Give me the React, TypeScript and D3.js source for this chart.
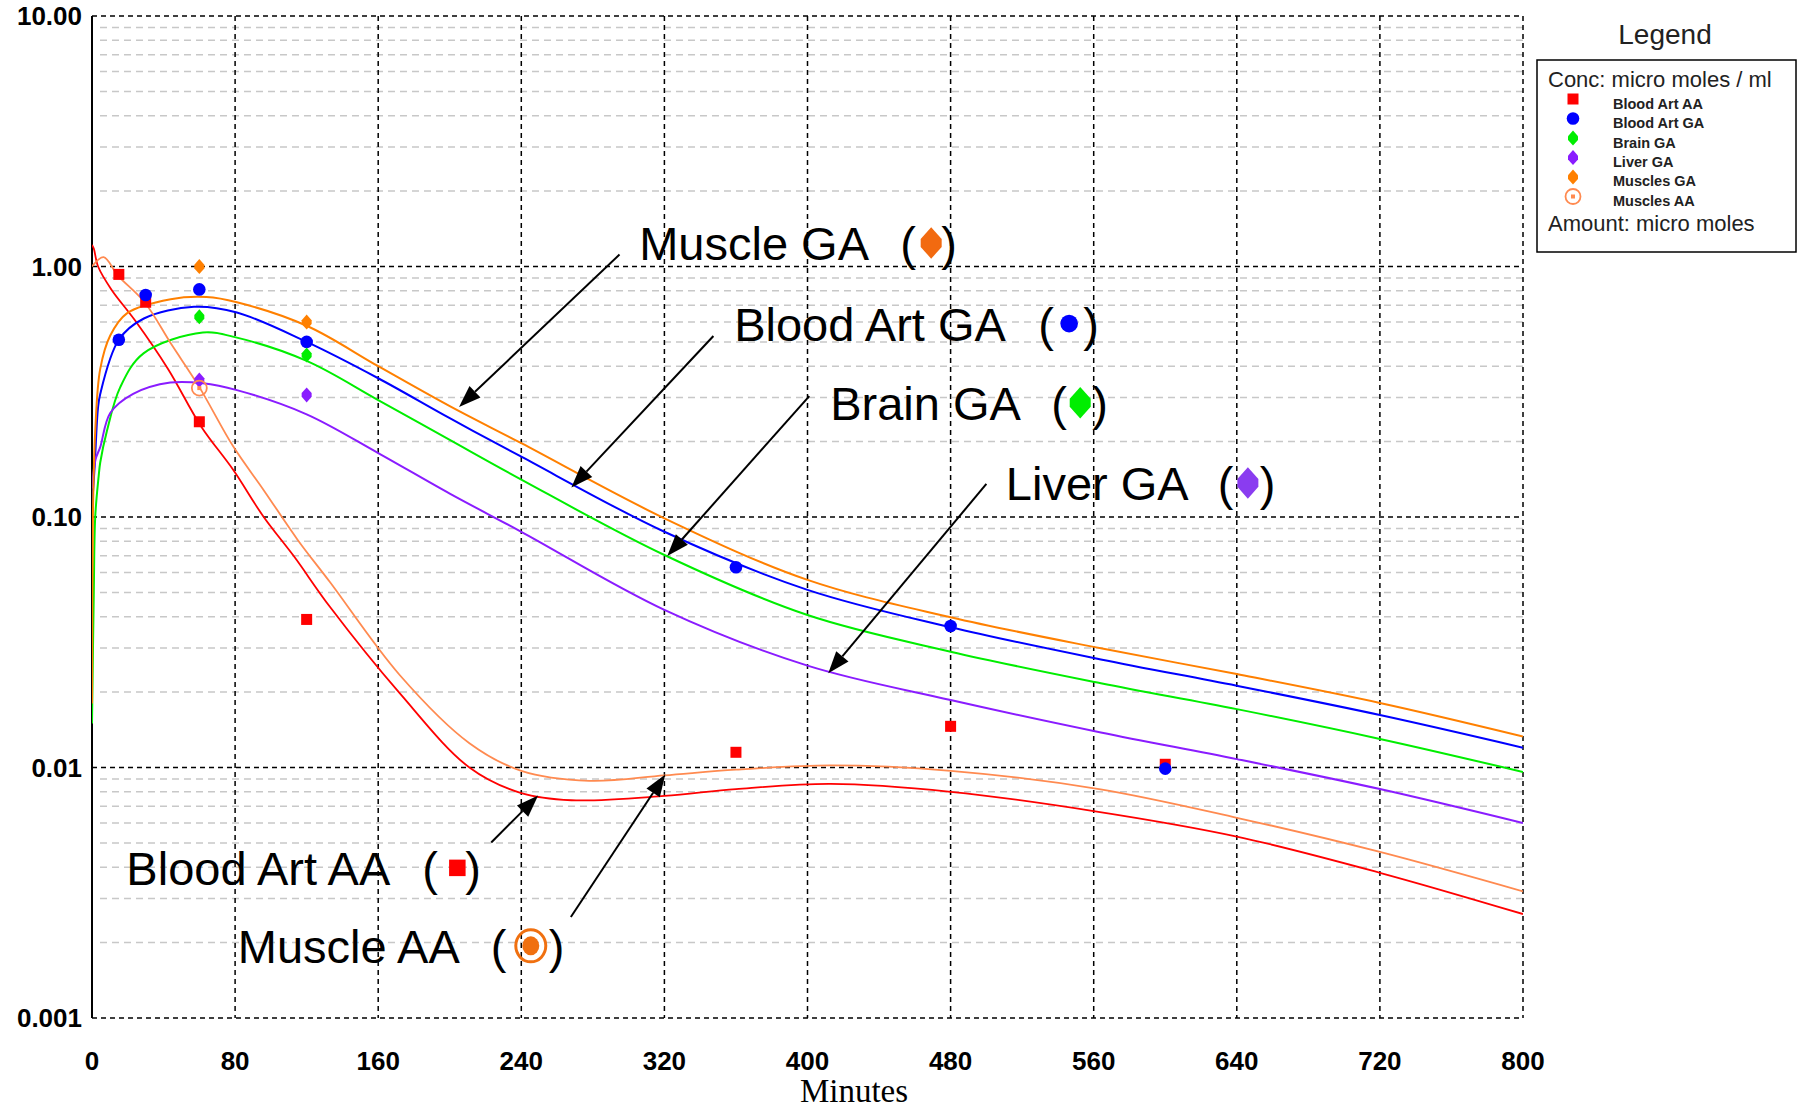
import React from "react";
import * as d3 from "d3";

const svgWidth = 1798;
const svgHeight = 1110;
const margin = { top: 16, right: 275, bottom: 92, left: 92 };
const innerWidth = svgWidth - margin.left - margin.right;
const innerHeight = svgHeight - margin.top - margin.bottom;

// ticks
const xTicks = [0, 80, 160, 240, 320, 400, 480, 560, 640, 720, 800];
const yTicks = [0.001, 0.01, 0.1, 1, 10];
const yTickLabels = ["0.001", "0.01", "0.10", "1.00", "10.00"];

// measured points [minutes, conc]
const bloodArtAAPoints = [[15, 0.93], [30, 0.72], [60, 0.24], [120, 0.039], [360, 0.0115], [480, 0.0146], [600, 0.0103]];
const bloodArtGAPoints = [[15, 0.51], [30, 0.77], [60, 0.81], [120, 0.5], [360, 0.063], [480, 0.0367], [600, 0.0099]];
const brainGAPoints = [[60, 0.63], [120, 0.443]];
const liverGAPoints = [[60, 0.352], [120, 0.307]];
const musclesGAPoints = [[60, 1.0], [120, 0.6]];
const musclesAAPoints = [[60, 0.327]];

// fitted curves
const bloodArtAACurve = [[0, 1.22], [1, 1.18], [3.4, 1.0], [10.8, 0.81], [24, 0.61], [42.5, 0.39], [61, 0.23], [79, 0.154], [96, 0.1], [113, 0.0695], [133, 0.0438], [172, 0.0198], [211, 0.01], [240, 0.0079], [268, 0.0074], [320, 0.0077], [360, 0.0082], [413, 0.0086], [480, 0.008], [560, 0.0067], [640, 0.0053], [720, 0.0038], [800, 0.0026]];
const musclesAACurve = [[0, 1.0], [6.5, 1.09], [14.5, 0.92], [29.4, 0.72], [44.3, 0.49], [60, 0.33], [79, 0.191], [96, 0.128], [115, 0.081], [133, 0.055], [172, 0.0234], [211, 0.0125], [240, 0.0097], [278, 0.00885], [320, 0.0093], [360, 0.0098], [413, 0.0102], [480, 0.0097], [563, 0.0082], [640, 0.0063], [720, 0.0046], [800, 0.0032]];
const bloodArtGACurve = [[0, 0.11], [1.5, 0.16], [3.3, 0.27], [4.6, 0.31], [15, 0.51], [29, 0.62], [57, 0.69], [81, 0.655], [120, 0.5], [160, 0.358], [200, 0.248], [240, 0.174], [320, 0.0873], [400, 0.0512], [480, 0.0363], [564, 0.027], [640, 0.0212], [720, 0.0162], [800, 0.012]];
const musclesGACurve = [[0, 0.018], [0.5, 0.1], [1.8, 0.22], [4.6, 0.39], [10.2, 0.53], [19.5, 0.65], [44, 0.74], [64, 0.755], [81, 0.72], [120, 0.58], [160, 0.4], [200, 0.277], [240, 0.197], [320, 0.0988], [400, 0.0561], [480, 0.0398], [564, 0.0299], [640, 0.0236], [720, 0.0181], [800, 0.0133]];
const brainGACurve = [[0, 0.015], [1, 0.05], [1.8, 0.1], [3.7, 0.145], [4.6, 0.165], [8.3, 0.22], [15.8, 0.33], [28.8, 0.45], [62, 0.545], [81, 0.52], [120, 0.42], [160, 0.293], [200, 0.203], [240, 0.141], [320, 0.0705], [400, 0.0406], [480, 0.029], [564, 0.0217], [640, 0.0171], [720, 0.013], [800, 0.0096]];
const liverGACurve = [[0, 0.13], [2, 0.17], [4.6, 0.19], [10.2, 0.26], [23, 0.31], [43.8, 0.344], [62, 0.342], [81, 0.321], [120, 0.257], [160, 0.18], [200, 0.124], [240, 0.0873], [320, 0.0426], [400, 0.0255], [480, 0.0186], [564, 0.0138], [640, 0.0108], [720, 0.0082], [800, 0.006]];

const series = [
  { name: "Blood Art AA", color: "#ff0000", shape: "square", points: bloodArtAAPoints, curve: bloodArtAACurve, lw: 1.8 },
  { name: "Blood Art GA", color: "#0000ff", shape: "circle", points: bloodArtGAPoints, curve: bloodArtGACurve, lw: 2 },
  { name: "Brain GA", color: "#00ee00", shape: "diamond", points: brainGAPoints, curve: brainGACurve, lw: 2 },
  { name: "Liver GA", color: "#8a1cff", shape: "diamond", points: liverGAPoints, curve: liverGACurve, lw: 2 },
  { name: "Muscles GA", color: "#ff8000", shape: "diamond", points: musclesGAPoints, curve: musclesGACurve, lw: 2 },
  { name: "Muscles AA", color: "#ff8a50", shape: "ring", points: musclesAAPoints, curve: musclesAACurve, lw: 1.8 },
];

// call-out labels: text anchor, arrow tail and tip in data units
const annotations = [
  { label: "Muscle GA", text: [305.9, 1.062], tail: [294.9, 1.116], tip: [205.2, 0.275], shape: "diamond", color: "#f26a10", offs: [261, 292, 302] },
  { label: "Blood Art GA", text: [359, 0.506], tail: [347.4, 0.528], tip: [268, 0.131], shape: "circle", color: "#0000ff", offs: [304, 335, 349] },
  { label: "Brain GA", text: [412.7, 0.2446], tail: [401, 0.304], tip: [321.6, 0.0699], shape: "diamond", color: "#00ee00", offs: [221, 250, 262] },
  { label: "Liver GA", text: [510.9, 0.117], tail: [500, 0.1355], tip: [411.6, 0.0238], shape: "diamond", color: "#8a3cf0", offs: [212, 242, 254] },
  { label: "Blood Art AA", text: [19.2, 0.0034], tail: [223.2, 0.00502], tip: [249.4, 0.00773], shape: "square", color: "#ff0000", offs: [296, 331, 339] },
  { label: "Muscle AA", text: [81.5, 0.00166], tail: [267.7, 0.00253], tip: [320.5, 0.00938], shape: "bigring", color: "#f07010", offs: [253, 293, 311] },
];

const Marker = ({ shape, x, y, color, scale = 1 }) => {
  if (shape === "square") {
    const s = 11 * scale;
    return <rect x={x - s / 2} y={y - s / 2} width={s} height={s} fill={color} />;
  }
  if (shape === "circle") {
    return <circle cx={x} cy={y} r={6.3 * scale} fill={color} />;
  }
  if (shape === "diamond") {
    const w = 5 * scale;
    const h = 7.5 * scale;
    return (
      <path
        d={`M${x},${y - h} L${x + w},${y - h * 0.25} L${x + w},${y + h * 0.25} L${x},${y + h} L${x - w},${y + h * 0.25} L${x - w},${y - h * 0.25} Z`}
        fill={color}
      />
    );
  }
  if (shape === "ring") {
    return (
      <g>
        <circle cx={x} cy={y} r={7.5 * scale} fill="none" stroke={color} strokeWidth={1.8} />
        <rect x={x - 2} y={y - 2} width={4} height={4} fill={color} />
      </g>
    );
  }
  // big ring used in the call-out
  return (
    <g>
      <ellipse cx={x} cy={y} rx={15} ry={16} fill="none" stroke={color} strokeWidth={3} />
      <ellipse cx={x} cy={y} rx={8.5} ry={9.5} fill={color} />
    </g>
  );
};

const Arrow = ({ x1, y1, x2, y2 }) => {
  const ang = Math.atan2(y2 - y1, x2 - x1);
  const len = 22;
  const hw = 8;
  const bx = x2 - len * Math.cos(ang);
  const by = y2 - len * Math.sin(ang);
  const px = -Math.sin(ang) * hw;
  const py = Math.cos(ang) * hw;
  return (
    <g>
      <line x1={x1} y1={y1} x2={bx} y2={by} stroke="black" strokeWidth={2} />
      <polygon points={`${x2},${y2} ${bx + px},${by + py} ${bx - px},${by - py}`} fill="black" />
    </g>
  );
};

const App = () => {
  const xScale = d3.scaleLinear().domain([0, 800]).range([0, innerWidth]);
  const yScale = d3.scaleLog().domain([0.001, 10]).range([innerHeight, 0]);

  const lineGen = d3
    .line()
    .x((d) => xScale(d[0]))
    .y((d) => yScale(d[1]))
    .curve(d3.curveCatmullRom.alpha(0.5));

  const minorTicks = [];
  [0.001, 0.01, 0.1, 1].forEach((dec) => {
    for (let k = 2; k <= 9; k++) minorTicks.push(dec * k);
  });

  const sansFont = "'Liberation Sans', Arial, sans-serif";

  return (
    <div style={{ position: "absolute", left: 0, top: 0 }}>
      <svg width={svgWidth} height={svgHeight} style={{ display: "block", background: "white" }}>
        <defs>
          <clipPath id="plotClip">
            <rect x={0} y={0} width={innerWidth} height={innerHeight} />
          </clipPath>
        </defs>
        <g transform={`translate(${margin.left},${margin.top})`}>
          {/* minor grid */}
          {minorTicks.map((v, i) => (
            <line key={"mn" + i} x1={8} x2={innerWidth} y1={yScale(v)} y2={yScale(v)} stroke="#c8c8c8" strokeWidth={1.5} strokeDasharray="7,5" />
          ))}
          {/* vertical grid */}
          {xTicks.slice(1).map((t) => (
            <line key={"vx" + t} x1={xScale(t)} x2={xScale(t)} y1={0} y2={innerHeight} stroke="black" strokeWidth={1.5} strokeDasharray="5,4" />
          ))}
          {/* decade grid */}
          {yTicks.map((v) => (
            <line key={"hy" + v} x1={0} x2={innerWidth} y1={yScale(v)} y2={yScale(v)} stroke="black" strokeWidth={1.5} strokeDasharray="5,4" />
          ))}
          <line x1={0} x2={0} y1={0} y2={innerHeight} stroke="black" strokeWidth={2} />

          {/* curves */}
          <g clipPath="url(#plotClip)">
            {series.map((s) => (
              <path key={"c" + s.name} d={lineGen(s.curve)} fill="none" stroke={s.color} strokeWidth={s.lw} />
            ))}
          </g>
          {/* points */}
          {series.map((s) =>
            s.points.map((d, i) => (
              <Marker key={s.name + i} shape={s.shape} x={xScale(d[0])} y={yScale(d[1])} color={s.color} />
            ))
          )}

          {/* tick labels */}
          {yTicks.map((v, i) => (
            <text key={"yl" + v} x={-10} y={yScale(v)} textAnchor="end" dominantBaseline="central" fontFamily={sansFont} fontWeight="bold" fontSize={26}>
              {yTickLabels[i]}
            </text>
          ))}
          {xTicks.map((t) => (
            <text key={"xl" + t} x={xScale(t)} y={innerHeight + 43} textAnchor="middle" dominantBaseline="central" fontFamily={sansFont} fontWeight="bold" fontSize={26}>
              {t}
            </text>
          ))}
          <text x={762} y={innerHeight + 84} textAnchor="middle" fontFamily="'Liberation Serif', 'Times New Roman', serif" fontSize={33}>
            Minutes
          </text>

          {/* call-outs */}
          {annotations.map((a) => {
            const tx = xScale(a.text[0]);
            const ty = yScale(a.text[1]);
            return (
              <g key={"an" + a.label}>
                <Arrow x1={xScale(a.tail[0])} y1={yScale(a.tail[1])} x2={xScale(a.tip[0])} y2={yScale(a.tip[1])} />
                <text x={tx} y={ty} fontFamily={sansFont} fontSize={47} fill="black">
                  {a.label}
                </text>
                <text x={tx + a.offs[0]} y={ty} fontFamily={sansFont} fontSize={47} fill="black">(</text>
                <Marker shape={a.shape} x={tx + a.offs[1]} y={ty - 17} color={a.color} scale={a.shape === "circle" ? 1.4 : a.shape === "square" ? 1.5 : 2.1} />
                <text x={tx + a.offs[2]} y={ty} fontFamily={sansFont} fontSize={47} fill="black">)</text>
              </g>
            );
          })}
        </g>

        {/* legend */}
        <g fontFamily={sansFont}>
          <text x={1665} y={44} textAnchor="middle" fontSize={28} fill="#222">
            Legend
          </text>
          <rect x={1537} y={60} width={259} height={192} fill="white" stroke="black" strokeWidth={1.5} />
          <text x={1548} y={87} fontSize={22} fill="#222">
            Conc: micro moles / ml
          </text>
          {series.map((s, i) => (
            <g key={"lg" + s.name}>
              <Marker shape={s.shape} x={1573} y={99 + i * 19.5} color={s.color} />
              <text x={1613} y={104 + i * 19.3} dominantBaseline="central" fontSize={14.5} fontWeight="bold" fill="#222">
                {s.name}
              </text>
            </g>
          ))}
          <text x={1548} y={231} fontSize={22} fill="#222">
            Amount: micro moles
          </text>
        </g>
      </svg>
    </div>
  );
};

export default App;
